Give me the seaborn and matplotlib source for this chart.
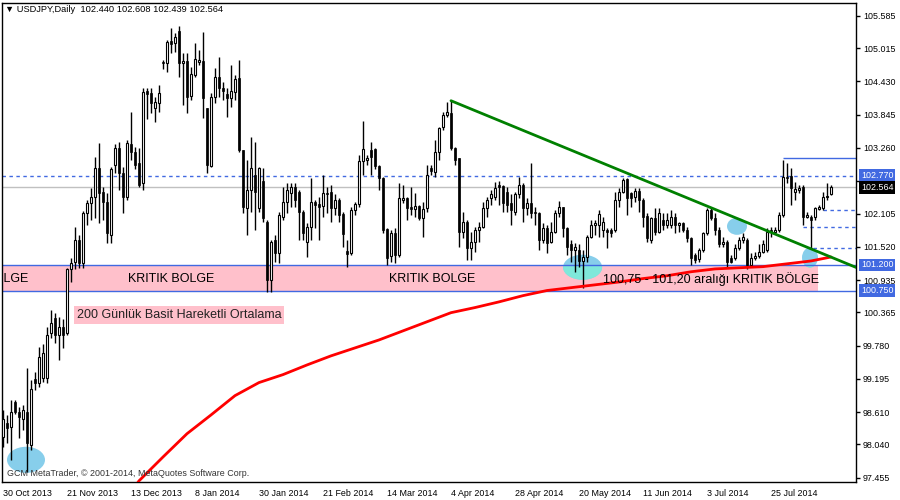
import numpy as np
import pandas as pd
import matplotlib
matplotlib.use("Agg")
import matplotlib.pyplot as plt
import seaborn as sns
from matplotlib.patches import Ellipse, Rectangle

# USDJPY daily candles, 30 Oct 2013 .. mid Aug 2014
opens = [
    98.18, 98.42, 98.35, 98.79, 98.62, 98.48, 98.62, 98.03, 99.20, 99.13,
    99.21, 99.21, 100.01, 100.27, 99.97, 100.11, 100.01, 101.12, 101.26, 101.64,
    101.24, 102.12, 102.29, 102.40, 102.91, 102.49, 102.31, 101.73, 102.96, 103.26,
    102.82, 102.40, 103.32, 103.19, 103.00, 102.65, 104.27, 104.23, 103.97, 104.05,
    104.78, 104.76, 105.15, 105.11, 105.32, 104.76, 104.79, 104.18, 104.55, 104.78,
    104.79, 103.97, 102.95, 104.16, 104.51, 104.32, 104.20, 104.14, 104.25, 104.49,
    103.23, 102.21, 102.52, 102.79, 102.21, 102.68, 101.96, 100.94, 101.64, 101.41,
    102.05, 102.31, 102.47, 102.58, 102.49, 102.14, 101.61, 101.87, 102.31, 102.28,
    102.24, 102.47, 102.49, 102.21, 102.35, 102.10, 101.45, 101.41, 102.17, 102.28,
    103.03, 103.05, 103.23, 103.24, 102.95, 102.73, 101.84, 101.36, 101.77, 101.38,
    102.35, 102.38, 102.22, 102.19, 102.24, 102.03, 102.21, 102.91, 102.84, 103.19,
    103.63, 103.84, 103.88, 103.26, 103.09, 101.78, 101.96, 101.50, 101.61, 101.82,
    101.87, 102.21, 102.38, 102.40, 102.61, 102.59, 102.49, 102.29, 102.14, 102.44,
    102.61, 102.21, 102.29, 102.14, 102.12, 101.64, 101.85, 101.61, 101.78, 102.12,
    102.22, 101.85, 101.56, 101.47, 101.47, 101.27, 101.34, 101.70, 101.91, 101.91,
    101.82, 101.82, 101.82, 101.82, 102.35, 102.49, 102.72, 102.47, 102.40, 102.51,
    102.35, 102.07, 101.64, 102.03, 101.78, 101.99, 101.91, 101.91, 102.05, 101.91,
    101.94, 101.82, 101.68, 101.38, 101.31, 101.47, 101.77, 102.17, 102.03, 101.82,
    101.56, 101.61, 101.33, 101.33, 101.50, 101.64, 101.64, 101.20, 101.33, 101.36,
    101.43, 101.47, 101.82, 101.78, 101.82, 102.08, 102.75, 102.77, 102.49, 102.52,
    102.58, 102.05, 102.05, 102.05, 102.19, 102.21, 102.40, 102.440,
]
highs = [
    98.65, 98.56, 98.83, 98.83, 98.70, 98.74, 99.39, 99.18, 99.32, 99.76,
    99.80, 100.11, 100.41, 100.36, 100.29, 100.24, 101.15, 101.33, 101.87, 101.73,
    102.15, 102.35, 102.56, 103.10, 103.35, 102.58, 102.47, 102.93, 103.32, 103.37,
    102.93, 103.40, 103.90, 103.28, 103.26, 104.32, 104.32, 104.32, 104.16, 104.37,
    104.81, 105.16, 105.37, 105.29, 105.41, 104.93, 104.93, 104.69, 105.11, 104.99,
    105.30, 103.97, 104.23, 104.67, 104.86, 104.42, 104.32, 104.72, 104.55, 104.81,
    103.23, 103.05, 103.46, 103.37, 102.93, 102.91, 101.99, 101.64, 101.73, 102.14,
    102.58, 102.65, 102.65, 102.65, 102.52, 102.17, 101.94, 102.73, 102.35, 102.40,
    102.79, 102.58, 102.61, 102.44, 102.38, 102.14, 101.64, 102.22, 102.31, 103.14,
    103.74, 103.14, 103.37, 103.26, 102.96, 102.75, 101.85, 101.82, 101.85, 102.65,
    102.61, 102.40, 102.58, 102.47, 102.26, 102.31, 102.96, 102.96, 103.40, 103.63,
    103.90, 104.07, 104.09, 103.28, 103.09, 102.14, 101.99, 101.78, 101.87, 101.96,
    102.31, 102.40, 102.52, 102.66, 102.68, 102.61, 102.58, 102.44, 102.49, 102.75,
    102.65, 102.38, 103.00, 102.22, 102.14, 101.94, 101.91, 101.96, 102.17, 102.33,
    102.22, 101.87, 101.64, 101.59, 101.56, 101.47, 101.73, 101.99, 101.99, 102.17,
    102.05, 101.85, 101.85, 102.49, 102.56, 102.73, 102.73, 102.49, 102.56, 102.56,
    102.38, 102.12, 102.05, 102.21, 102.21, 102.12, 102.12, 102.17, 102.12, 101.96,
    101.96, 101.87, 101.70, 101.41, 101.50, 101.78, 102.21, 102.22, 102.12, 101.87,
    101.70, 101.64, 101.38, 101.56, 101.70, 101.77, 101.68, 101.41, 101.43, 101.56,
    101.64, 101.85, 101.87, 101.87, 102.14, 103.05, 103.00, 102.91, 102.66, 102.61,
    102.61, 102.14, 102.08, 102.22, 102.26, 102.49, 102.65, 102.608,
]
lows = [
    98.00, 98.07, 97.77, 98.58, 98.16, 98.30, 97.56, 97.95, 99.00, 99.06,
    99.14, 99.13, 99.92, 99.83, 99.53, 99.74, 99.97, 100.90, 101.12, 101.15,
    101.15, 101.91, 101.99, 102.03, 101.94, 101.99, 101.59, 101.59, 102.82, 102.52,
    102.12, 102.35, 103.05, 102.88, 102.58, 102.52, 103.76, 103.88, 103.72, 103.90,
    104.64, 104.60, 104.93, 104.95, 104.51, 104.02, 103.88, 104.11, 104.51, 104.72,
    103.79, 102.82, 102.93, 104.05, 104.16, 104.11, 103.81, 103.98, 104.11, 103.19,
    102.12, 101.73, 102.14, 101.82, 102.14, 101.96, 100.73, 100.73, 101.26, 101.24,
    101.99, 102.12, 102.22, 102.22, 101.64, 101.64, 101.34, 101.64, 101.85, 101.64,
    102.05, 102.12, 101.96, 102.08, 101.96, 101.52, 101.17, 101.38, 102.08, 102.22,
    102.79, 102.96, 102.79, 102.88, 102.52, 101.77, 101.20, 101.26, 101.24, 101.34,
    102.29, 101.99, 102.08, 102.05, 101.99, 101.70, 102.14, 102.79, 102.75, 103.05,
    103.58, 103.81, 103.23, 102.96, 101.52, 101.68, 101.29, 101.29, 101.43, 101.61,
    101.85, 102.05, 102.26, 102.35, 102.26, 102.14, 102.14, 101.91, 102.08, 102.38,
    101.96, 102.08, 102.03, 101.91, 101.47, 101.59, 101.41, 101.59, 101.77, 102.05,
    101.70, 101.38, 101.26, 101.08, 101.17, 100.80, 101.26, 101.68, 101.73, 101.70,
    101.70, 101.50, 101.70, 101.78, 102.22, 102.47, 102.08, 102.22, 102.31, 102.14,
    101.87, 101.61, 101.59, 101.73, 101.77, 101.82, 101.85, 101.85, 101.77, 101.78,
    101.78, 101.61, 101.20, 101.24, 101.26, 101.43, 101.73, 101.99, 101.73, 101.52,
    101.52, 101.17, 101.24, 101.29, 101.47, 101.59, 101.12, 101.17, 101.29, 101.33,
    101.41, 101.43, 101.70, 101.77, 101.78, 102.05, 102.65, 102.26, 102.35, 102.47,
    101.91, 102.03, 101.50, 101.99, 102.17, 102.17, 102.35, 102.439,
]
closes = [
    98.48, 98.33, 98.62, 98.62, 98.53, 98.65, 98.07, 99.02, 99.13, 99.58,
    99.65, 99.97, 100.18, 99.97, 100.11, 99.97, 101.12, 101.24, 101.64, 101.24,
    102.12, 102.29, 102.40, 102.91, 102.47, 102.31, 101.77, 102.88, 103.26, 102.82,
    102.40, 103.35, 103.19, 102.96, 102.61, 104.25, 104.20, 104.05, 104.07, 104.23,
    104.76, 105.13, 105.09, 105.22, 104.76, 104.79, 104.16, 104.56, 104.83, 104.81,
    104.14, 102.96, 104.16, 104.51, 104.32, 104.27, 104.14, 104.27, 104.48, 103.23,
    102.22, 102.52, 102.91, 102.49, 102.91, 102.03, 100.94, 101.61, 101.41, 102.08,
    102.31, 102.52, 102.58, 102.35, 102.14, 101.77, 101.87, 102.31, 102.26, 102.22,
    102.47, 102.44, 102.21, 102.35, 102.08, 101.75, 101.40, 102.17, 102.28, 103.03,
    103.24, 103.09, 103.10, 102.95, 102.73, 101.82, 101.33, 101.77, 101.38, 102.37,
    102.38, 102.21, 102.19, 102.24, 102.03, 102.19, 102.79, 102.86, 103.19, 103.61,
    103.84, 103.90, 103.26, 103.05, 101.78, 101.96, 101.50, 101.61, 101.82, 101.87,
    102.21, 102.35, 102.44, 102.56, 102.58, 102.29, 102.26, 102.17, 102.44, 102.61,
    102.21, 102.29, 102.12, 102.12, 101.64, 101.85, 101.59, 101.78, 102.12, 102.22,
    101.85, 101.52, 101.47, 101.52, 101.27, 101.34, 101.70, 101.91, 101.94, 102.10,
    101.96, 101.78, 101.77, 102.35, 102.49, 102.70, 102.38, 102.38, 102.51, 102.35,
    102.05, 101.68, 102.03, 101.78, 102.12, 101.91, 101.99, 102.05, 101.91, 101.94,
    101.82, 101.68, 101.33, 101.29, 101.47, 101.77, 102.17, 102.03, 101.82, 101.56,
    101.61, 101.26, 101.26, 101.50, 101.64, 101.70, 101.20, 101.33, 101.36, 101.43,
    101.56, 101.78, 101.78, 101.82, 102.08, 102.75, 102.73, 102.56, 102.54, 102.56,
    102.05, 102.08, 101.99, 102.21, 102.22, 102.40, 102.42, 102.564,
]

# 200-day simple moving average (sampled along the chart)
ma_bar = [33, 34, 40, 46, 52, 58, 64, 70, 76, 82, 88, 94, 100, 106, 112, 118, 124,
          130, 136, 142, 148, 154, 160, 166, 172, 178, 184, 190, 196, 202, 207]
ma_val = [97.30, 97.40, 97.82, 98.23, 98.56, 98.90, 99.13, 99.27, 99.44, 99.60,
          99.74, 99.88, 100.04, 100.20, 100.36, 100.45, 100.55, 100.66, 100.75,
          100.80, 100.85, 100.90, 100.96, 101.01, 101.08, 101.13, 101.15, 101.17,
          101.22, 101.27, 101.34]

# falling trend line
trend_bar = [112, 213.5]
trend_val = [104.09, 101.15]

date_bars = [0, 16, 32, 48, 64, 80, 96, 112, 128, 144, 160, 176, 192]
date_labels = ["30 Oct 2013", "21 Nov 2013", "13 Dec 2013", "8 Jan 2014", "30 Jan 2014",
               "21 Feb 2014", "14 Mar 2014", "4 Apr 2014", "28 Apr 2014", "20 May 2014",
               "11 Jun 2014", "3 Jul 2014", "25 Jul 2014"]
price_ticks = [105.585, 105.015, 104.430, 103.845, 103.260, 102.675, 102.105, 101.520,
               100.935, 100.365, 99.780, 99.195, 98.610, 98.040, 97.455]

zone_low, zone_high = 100.75, 101.20
last_price = 102.564
level_dash = 102.77
short_levels = [103.09, 102.17, 101.87, 101.50]
short_starts = [195, 205, 200, 202.5]
short_styles = ["-", "--", "--", "--"]

# highlight circles: centre bar, centre price, width (bars), height (price)
marks_x = [5.75, 144.9, 183.5, 201.75]
marks_y = [97.77, 101.16, 101.88, 101.33]
marks_w = [9.5, 9.75, 5.0, 4.0]
marks_h = [0.46, 0.44, 0.30, 0.35]

df = pd.DataFrame({"open": opens, "high": highs, "low": lows, "close": closes})
df["bar"] = np.arange(len(df))
up = df["close"] >= df["open"]

sns.set_style("white")
plt.rcParams["font.family"] = ["Liberation Sans", "DejaVu Sans"]

fig = plt.figure(figsize=(9, 5), dpi=100)
ax = fig.add_axes([2 / 900, 18 / 500, 854 / 900, 479 / 500])
ax.set_xlim(-0.25, 213.25)
ax.set_ylim(97.38, 105.81)

# critical zone
band = Rectangle((-1, zone_low), 204.75, zone_high - zone_low, facecolor="pink",
                 edgecolor="none", zorder=1)
ax.add_patch(band)

for cx, cy, w, h in zip(marks_x, marks_y, marks_w, marks_h):
    ax.add_patch(Ellipse((cx, cy), w, h, facecolor="#87CEEB", edgecolor="none", zorder=1.5))
    inner = Ellipse((cx, cy), w, h, facecolor="#7FE8DA", edgecolor="none", zorder=1.6)
    ax.add_patch(inner)
    inner.set_clip_path(band)

blue = "#4169E1"
ax.axhline(zone_high, color=blue, lw=1, zorder=2)
ax.axhline(zone_low, color=blue, lw=1, zorder=2)
ax.axhline(level_dash, color=blue, lw=1, ls=(0, (2.5, 2.5)), zorder=2)
ax.axhline(last_price, color="#C0C0C0", lw=1, zorder=2)
for lvl, st, ls in zip(short_levels, short_starts, short_styles):
    ax.hlines(lvl, st, 213.25, color=blue, lw=1,
              linestyles=ls if ls == "-" else [(0, (2.5, 2.5))], zorder=2)

# candles
ax.vlines(df["bar"], df["low"], df["high"], color="black", lw=1, zorder=3)
ax.bar(df["bar"][up], (df["close"] - df["open"])[up], bottom=df["open"][up], width=0.55,
       facecolor="white", edgecolor="black", lw=0.8, zorder=4)
ax.bar(df["bar"][~up], (df["close"] - df["open"])[~up], bottom=df["open"][~up], width=0.7,
       facecolor="black", edgecolor="black", lw=0.5, zorder=4)

sns.lineplot(x=ma_bar, y=ma_val, color="red", lw=2, ax=ax, zorder=5)
sns.lineplot(x=trend_bar, y=trend_val, color="green", lw=2, ax=ax, zorder=5)

# texts
tf = dict(fontsize=9, color="black", va="center", zorder=6)
ax.text(6.25, 100.95, "KRITIK BOLGE", ha="right", clip_on=True, **tf)
ax.text(42, 100.95, "KRITIK BOLGE", ha="center", **tf)
ax.text(107.25, 100.95, "KRITIK BOLGE", ha="center", **tf)
ax.text(177, 100.95, "100,75 - 101,20 aralığı KRITIK BÖLGE", ha="center", **tf)
ax.text(44, 100.32, "200 Günlük Basit Hareketli Ortalama", ha="center", va="center",
        fontsize=9, color="#222222", zorder=7,
        bbox=dict(boxstyle="square,pad=0.25", facecolor="pink", edgecolor="none"))

fig.text(5 / 900, 1 - 10 / 500, "▼ USDJPY,Daily  102.440 102.608 102.439 102.564",
         fontsize=6.7, va="center", ha="left", color="black")
fig.text(7 / 900, 1 - 474 / 500, "GCM MetaTrader, © 2001-2014, MetaQuotes Software Corp.",
         fontsize=6.4, va="center", ha="left", color="#333333", zorder=8)

# axes styling
for s in ax.spines.values():
    s.set_color("black")
    s.set_linewidth(1)
ax.yaxis.tick_right()
ax.set_yticks(price_ticks)
ax.set_yticklabels(["" if t == 102.675 else f"{t:.3f}" for t in price_ticks])
ax.set_xticks(date_bars)
ax.set_xticklabels(date_labels, ha="left")
ax.tick_params(axis="y", direction="out", length=3, width=1, labelsize=6.4, pad=2,
               color="black", labelcolor="black")
ax.tick_params(axis="x", direction="out", length=4, width=1, labelsize=6.4, pad=1,
               color="black", labelcolor="black")
ax.set_xlabel("")
ax.set_ylabel("")

box_t = ax.get_yaxis_transform()
for val, txt, bg in [(level_dash, "102.770", blue), (last_price, "102.564", "black"),
                     (zone_high, "101.200", blue), (zone_low, "100.750", blue)]:
    ax.text(1.006, val, txt, transform=box_t, ha="left", va="center", color="white",
            fontsize=6.4, zorder=9,
            bbox=dict(boxstyle="square,pad=0.2", facecolor=bg, edgecolor="none"))

fig.savefig("out.png", dpi=100)
